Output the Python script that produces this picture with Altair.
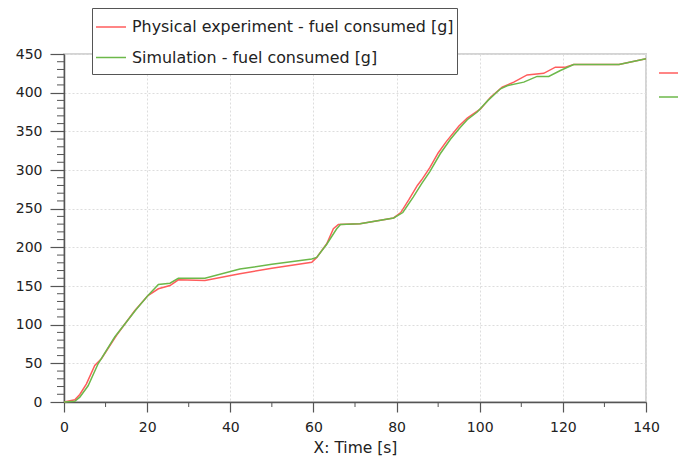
import altair as alt
import pandas as pd

series_names = ["Physical experiment - fuel consumed [g]", "Simulation - fuel consumed [g]"]
series_colors = ["#ff5c5c", "#6cb84a"]

red_t = [0, 2.6, 3.8, 5.4, 7.4, 9, 12.6, 17, 20.2, 22.7, 25.5, 27.5, 33.9, 42.3, 50, 59.6, 60.8,
         63.2, 64.8, 66, 71.2, 79.3, 81, 83, 85, 86, 88, 90, 92, 95, 97, 100.2, 102.6, 105.4,
         108.2, 111.4, 115.4, 118.2, 120.6, 122.6, 133.5, 140]
red_v = [0, 2.8, 9.7, 23.5, 47.2, 56, 86, 118, 137.7, 146.4, 150.6, 158, 157, 165.8, 173, 180.8, 187,
         204.6, 224, 229.5, 230.4, 238, 245, 262, 280, 287, 303, 322, 337, 357, 367, 379, 394, 407,
         413.6, 423, 425, 433, 433, 436.4, 436.4, 443.8]

green_t = [0, 2.6, 3.8, 5.8, 8.2, 12.2, 17.4, 20.2, 22.7, 25.5, 27.5, 33.9, 42.3, 50, 59.6, 60.8,
           63.2, 65.6, 66.5, 71.2, 79.3, 81.5, 84, 86, 88, 90.5, 93, 95.3, 97, 99.4, 102, 105,
           106.6, 110.6, 113.8, 116.6, 119.4, 122.6, 133.5, 140]
green_v = [0, 1, 6.2, 21, 49.4, 84, 120, 137.7, 152, 153.6, 160, 160, 172, 178, 185, 187,
           204, 224, 229.5, 230.4, 238, 245, 265, 282, 298, 321, 340, 355, 365, 375, 390, 405,
           409, 413.6, 421, 421, 428.7, 436.4, 436.4, 443.8]

x_major = [0, 20, 40, 60, 80, 100, 120, 140]
x_minor = [10, 30, 50, 70, 90, 110, 130]
y_major = [0, 50, 100, 150, 200, 250, 300, 350, 400, 450]
y_minor = [10, 20, 30, 40, 60, 70, 80, 90, 110, 120, 130, 140, 160, 170, 180, 190,
           210, 220, 230, 240, 260, 270, 280, 290, 310, 320, 330, 340, 360, 370, 380, 390,
           410, 420, 430, 440]

df = pd.concat([
    pd.DataFrame({"t": red_t, "v": red_v, "series": series_names[0]}),
    pd.DataFrame({"t": green_t, "v": green_v, "series": series_names[1]}),
])

FONT = "DejaVu Sans"
AX = "#555555"

X_ENC = alt.X("t:Q", scale=alt.Scale(domain=[0, 140], nice=False, zero=False),
              axis=alt.Axis(values=x_major, title="X: Time [s]", tickSize=10, labelPadding=8,
                            titlePadding=6, labelFlush=False))
Y_ENC = alt.Y("v:Q", scale=alt.Scale(domain=[0, 450], nice=False),
              axis=alt.Axis(values=y_major, title=None, tickSize=14, labelPadding=8))

lines = alt.Chart(df).mark_line(strokeWidth=1.5).encode(
    x=X_ENC, y=Y_ENC,
    color=alt.Color("series:N", scale=alt.Scale(domain=series_names, range=series_colors),
                    legend=alt.Legend(title=" ", titleOrient="bottom", titleFontSize=5,
                                      titlePadding=1, orient="none", legendX=28, legendY=-46,
                                      strokeColor=AX, fillColor="white", padding=3,
                                      symbolType="stroke", symbolSize=900, symbolStrokeWidth=1.5,
                                      labelFont=FONT, labelFontSize=15.9, labelColor="#222222",
                                      rowPadding=6.5, labelOffset=5, labelLimit=0)),
)

ghost = alt.Chart(df).transform_filter("datum.t < 0").mark_line(strokeWidth=1.5).encode(
    x=X_ENC, y=Y_ENC,
    color=alt.Color("series:N", scale=alt.Scale(domain=series_names, range=series_colors),
                    legend=alt.Legend(title=None, orient="none", legendX=594, legendY=6,
                                      padding=0, symbolType="stroke", symbolSize=576,
                                      symbolStrokeWidth=1.5, labelExpr="''", labelFontSize=14,
                                      rowPadding=4, labelOffset=4)),
)

xminor = alt.Chart(pd.DataFrame({"t": x_minor})).mark_rule(color=AX, strokeWidth=1).encode(
    x=X_ENC, y=alt.value(348), y2=alt.value(353),
)
yminor = alt.Chart(pd.DataFrame({"v": y_minor})).mark_rule(color=AX, strokeWidth=1).encode(
    y=Y_ENC, x=alt.value(-7), x2=alt.value(0),
)

chart = alt.layer(lines, ghost, xminor, yminor).resolve_scale(color="independent").properties(
    width=582, height=348,
    padding={"left": 64, "top": 54, "right": 32, "bottom": 58},
    autosize=alt.AutoSizeParams(type="none"),
    background="white",
).configure_view(
    stroke="#d4d4d4", strokeWidth=2
).configure_axis(
    domainColor=AX, domainWidth=1.5, tickColor=AX, tickWidth=1.2,
    labelFont=FONT, labelFontSize=14, labelColor="#222222",
    titleFont=FONT, titleFontSize=15.5, titleFontWeight="normal", titleColor="#222222",
    gridColor="#dddddd", gridDash=[2, 2], gridWidth=1,
)

chart.save("out.html", embed_options={"renderer": "svg", "actions": False})
